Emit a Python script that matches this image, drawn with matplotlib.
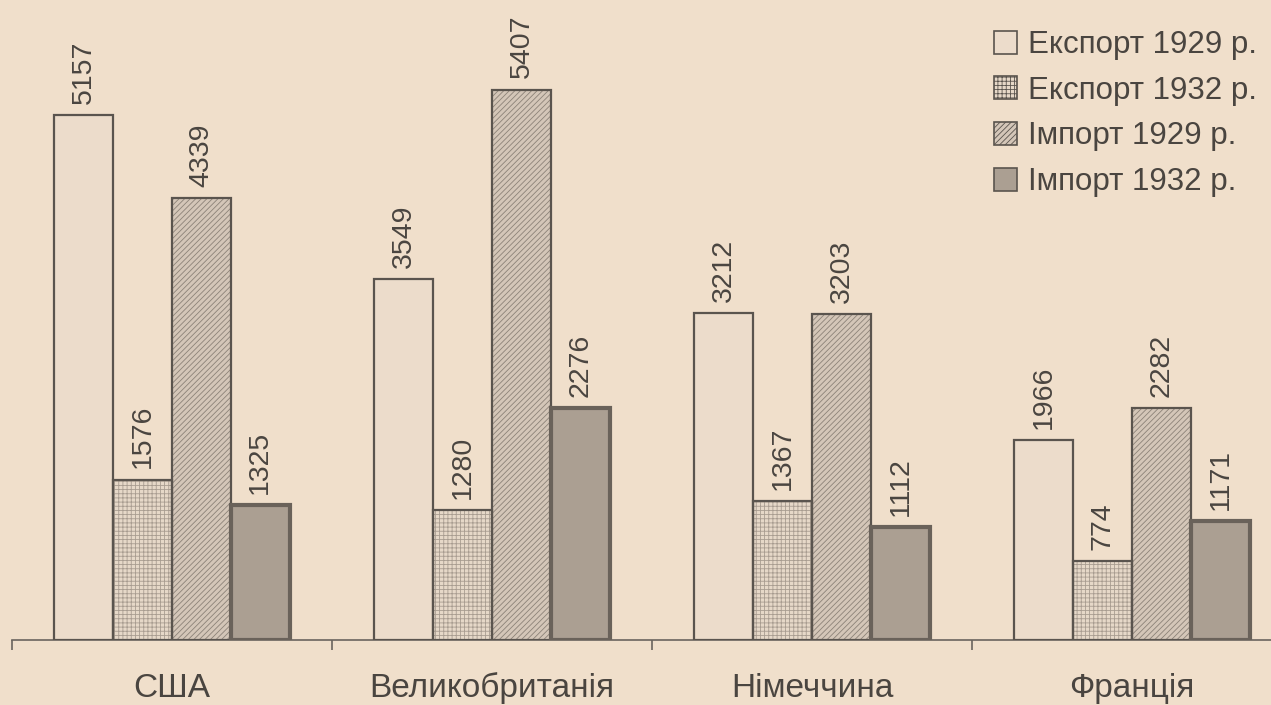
import matplotlib.pyplot as plt
import numpy as np

plt.rcParams['font.family'] = ['Liberation Sans', 'DejaVu Sans']
plt.rcParams['hatch.linewidth'] = 0.6

# Data
countries = ['США', 'Великобританія', 'Німеччина', 'Франція']
series_names = ['Експорт 1929 р.', 'Експорт 1932 р.', 'Імпорт 1929 р.', 'Імпорт 1932 р.']
export_1929 = [5157, 3549, 3212, 1966]
export_1932 = [1576, 1280, 1367, 774]
import_1929 = [4339, 5407, 3203, 2282]
import_1932 = [1325, 2276, 1112, 1171]

bg = '#f0dfcb'
edge = '#5a544e'
styles = [
    dict(color='#ecdccb', hatch=None, hcolor='#ecdccb', lw=1.6),
    dict(color='#e6d8c8', hatch='++++', hcolor='#a89c90', lw=1.6),
    dict(color='#d4c6b8', hatch='//////', hcolor='#8c8278', lw=1.6),
    dict(color='#ab9f92', hatch=None, hcolor='#ab9f92', lw=3.0),
]

fig = plt.figure(figsize=(12.71, 7.05), dpi=100)
fig.patch.set_facecolor(bg)
ax = fig.add_axes([12 / 1271, 65 / 705, 1 - 12 / 1271, 640 / 705])
ax.set_facecolor(bg)

x = np.arange(len(countries))
width = 0.184
all_series = [export_1929, export_1932, import_1929, import_1932]

handles = []
for i, (vals, st) in enumerate(zip(all_series, styles)):
    pos = x + (i - 1.5) * width
    # fill + hatch
    ax.bar(pos, vals, width, color=st['color'], hatch=st['hatch'],
           edgecolor=st['hcolor'], linewidth=0, zorder=2)
    # outline
    ax.bar(pos, vals, width, fill=False, edgecolor=edge if i < 3 else '#6a625a',
           linewidth=st['lw'], zorder=3)
    for px, v in zip(pos, vals):
        ax.annotate(f'{v}', xy=(px, v), xytext=(0, 8), textcoords='offset points',
                    rotation=90, ha='center', va='bottom', fontsize=20.5, color='#4a4540')
    handles.append(plt.Rectangle((0, 0), 1, 1, facecolor=st['color'], hatch=st['hatch'],
                                 edgecolor=edge, linewidth=1.2))

ax.set_xlim(-0.5, 3.434)
ax.set_ylim(0, 6287)

for s in ['top', 'right', 'left']:
    ax.spines[s].set_visible(False)
ax.spines['bottom'].set_color('#6a645e')
ax.spines['bottom'].set_linewidth(1.2)
ax.set_yticks([])
ax.set_xticks([-0.5, 0.5, 1.5, 2.5])
ax.set_xticklabels([])
ax.tick_params(axis='x', direction='out', length=7, width=1.2, color='#6a645e')

for xi, name in zip(x, countries):
    ax.text(xi, -57 / 640, name, transform=ax.get_xaxis_transform(), ha='center',
            va='baseline', fontsize=24, color='#4a4540')

leg = fig.legend(handles, series_names, loc='upper right', bbox_to_anchor=(0.999, 0.975),
                 frameon=False, fontsize=22.5, handlelength=0.75, handleheight=0.75,
                 handletextpad=0.35, labelspacing=0.5, borderaxespad=0)
for t in leg.get_texts():
    t.set_color('#4a4540')

plt.savefig('out.png', dpi=100, facecolor=bg)
